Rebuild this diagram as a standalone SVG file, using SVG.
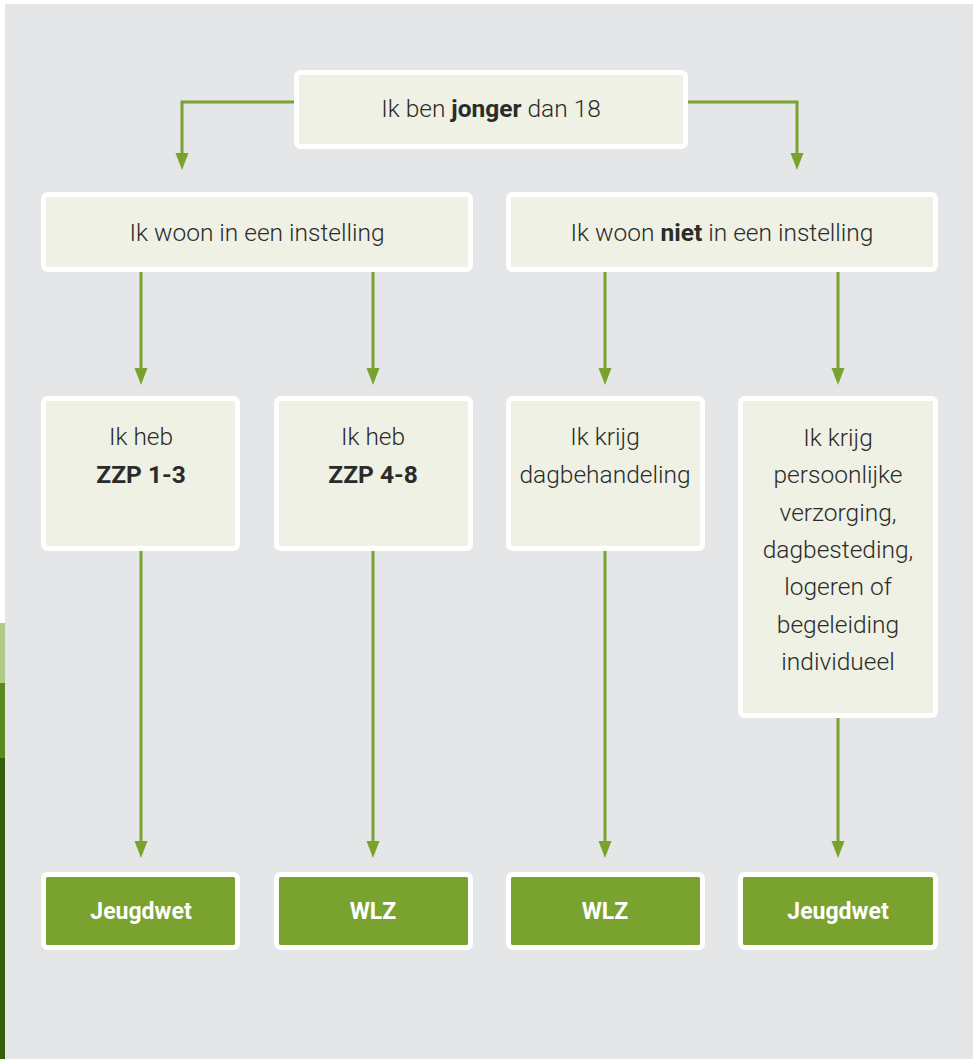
<svg xmlns="http://www.w3.org/2000/svg" width="978" height="1059" viewBox="0 0 978 1059">
<defs>
<style>
.bg{fill:#e5e6e8}
.box{fill:#eef1e3;stroke:#ffffff;stroke-width:5}
.res{fill:#79a22e;stroke:#ffffff;stroke-width:5}
.t{font-family:Roboto,"Liberation Sans",sans-serif;font-weight:300;font-size:24.5px;fill:#2b2b2b;text-anchor:middle}
.b{font-weight:700}
.w{font-family:Roboto,"Liberation Sans",sans-serif;font-weight:700;font-size:23px;fill:#ffffff;text-anchor:middle}
.c{fill:none;stroke:#79a22e;stroke-width:3}
.ah{fill:#79a22e}
</style>
</defs>
<rect x="0" y="0" width="978" height="1059" fill="#ffffff"/>
<rect class="bg" x="5" y="4" width="968" height="1055"/>
<rect x="0" y="623" width="5" height="60" fill="#b0c986"/>
<rect x="0" y="683" width="5" height="75" fill="#5a8a20"/>
<rect x="0" y="758" width="5" height="301" fill="#365e0a"/>

<g id="connectors">
<path class="c" d="M296,102 H182 V155"/>
<path class="c" d="M686,102 H797 V155"/>
<path class="ah" d="M175.5,153 H188.5 L182,170 Z"/>
<path class="ah" d="M790.5,153 H803.5 L797,170 Z"/>
<path class="c" d="M141,270 V370"/>
<path class="c" d="M373,270 V370"/>
<path class="c" d="M605,270 V370"/>
<path class="c" d="M838,270 V370"/>
<path class="ah" d="M134.5,368 H147.5 L141,385 Z"/>
<path class="ah" d="M366.5,368 H379.5 L373,385 Z"/>
<path class="ah" d="M598.5,368 H611.5 L605,385 Z"/>
<path class="ah" d="M831.5,368 H844.5 L838,385 Z"/>
<path class="c" d="M141,550 V843"/>
<path class="c" d="M373,550 V843"/>
<path class="c" d="M605,550 V843"/>
<path class="c" d="M838,717 V843"/>
<path class="ah" d="M134.5,841 H147.5 L141,858 Z"/>
<path class="ah" d="M366.5,841 H379.5 L373,858 Z"/>
<path class="ah" d="M598.5,841 H611.5 L605,858 Z"/>
<path class="ah" d="M831.5,841 H844.5 L838,858 Z"/>
</g>

<g id="n-jonger">
<rect class="box" x="296.5" y="72.5" width="389" height="74" rx="4"/>
<text class="t" x="491" y="117">Ik ben <tspan class="b">jonger</tspan> dan 18</text>
</g>
<g id="n-instelling">
<rect class="box" x="43.5" y="194.5" width="427" height="75" rx="4"/>
<text class="t" x="257" y="241">Ik woon in een instelling</text>
</g>
<g id="n-niet-instelling">
<rect class="box" x="508.5" y="194.5" width="427" height="75" rx="4"/>
<text class="t" x="722" y="241">Ik woon <tspan class="b">niet</tspan> in een instelling</text>
</g>
<g id="n-zzp13">
<rect class="box" x="43.5" y="398.5" width="194" height="150" rx="4"/>
<text class="t" x="141" y="445">Ik heb</text>
<text class="t b" x="141" y="483">ZZP 1-3</text>
</g>
<g id="n-zzp48">
<rect class="box" x="276.5" y="398.5" width="194" height="150" rx="4"/>
<text class="t" x="373" y="445">Ik heb</text>
<text class="t b" x="373" y="483">ZZP 4-8</text>
</g>
<g id="n-dagbehandeling">
<rect class="box" x="508.5" y="398.5" width="194" height="150" rx="4"/>
<text class="t" x="605" y="445">Ik krijg</text>
<text class="t" x="605" y="483">dagbehandeling</text>
</g>
<g id="n-verzorging">
<rect class="box" x="740.5" y="398.5" width="195" height="317" rx="4"/>
<text class="t" x="838" y="446">Ik krijg</text>
<text class="t" x="838" y="483">persoonlijke</text>
<text class="t" x="838" y="521">verzorging,</text>
<text class="t" x="838" y="558">dagbesteding,</text>
<text class="t" x="838" y="595">logeren of</text>
<text class="t" x="838" y="633">begeleiding</text>
<text class="t" x="838" y="670">individueel</text>
</g>
<g id="r-jeugdwet1">
<rect class="res" x="43.5" y="874.5" width="194" height="73" rx="4"/>
<text class="w" x="141" y="919">Jeugdwet</text>
</g>
<g id="r-wlz1">
<rect class="res" x="276.5" y="874.5" width="194" height="73" rx="4"/>
<text class="w" x="373" y="919">WLZ</text>
</g>
<g id="r-wlz2">
<rect class="res" x="508.5" y="874.5" width="194" height="73" rx="4"/>
<text class="w" x="605" y="919">WLZ</text>
</g>
<g id="r-jeugdwet2">
<rect class="res" x="740.5" y="874.5" width="195" height="73" rx="4"/>
<text class="w" x="838" y="919">Jeugdwet</text>
</g>
</svg>
